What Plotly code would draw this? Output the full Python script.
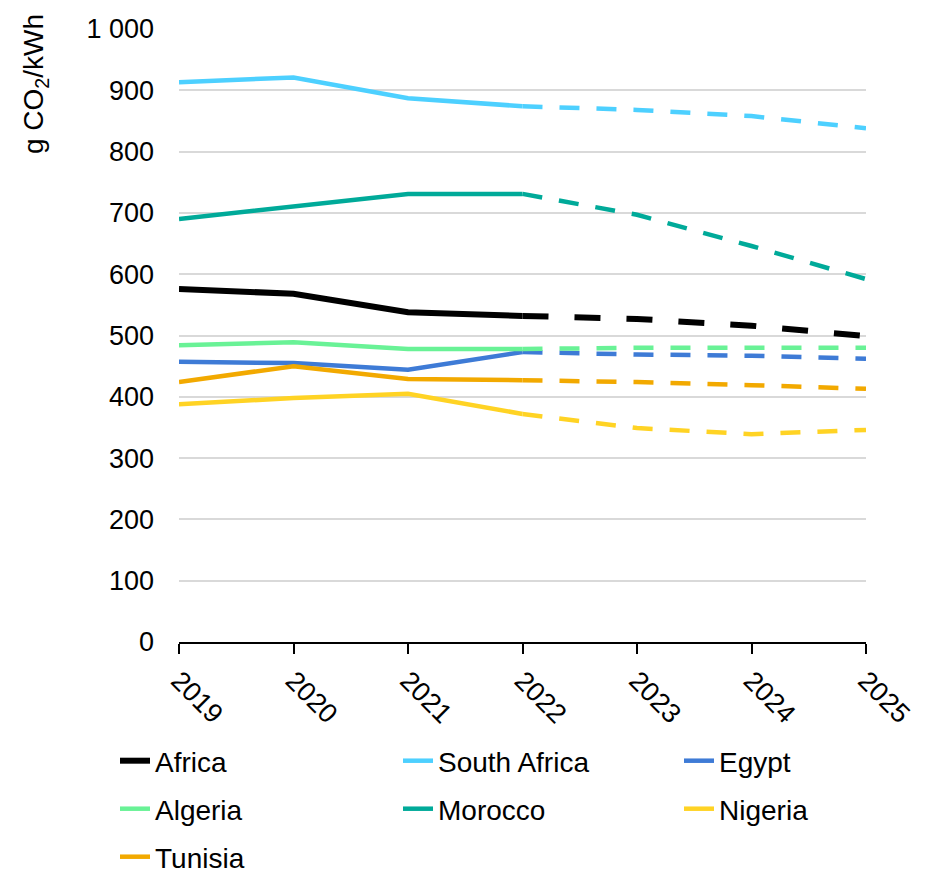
import plotly.graph_objects as go

years = [2019, 2020, 2021, 2022, 2023, 2024, 2025]
split_year = 2022  # history solid, projections dashed

series_names = ["Africa", "South Africa", "Egypt", "Algeria", "Morocco", "Nigeria", "Tunisia"]
africa = [576, 568, 538, 532, 527, 516, 499]
south_africa = [913, 921, 887, 874, 868, 858, 838]
egypt = [457, 455, 444, 473, 469, 467, 462]
algeria = [484, 489, 478, 478, 480, 480, 480]
morocco = [690, 711, 731, 731, 697, 646, 592]
nigeria = [388, 398, 405, 372, 349, 339, 346]
tunisia = [424, 450, 429, 427, 424, 419, 413]

colors = ["#000000", "#4DD0FF", "#3E7BD6", "#69F296", "#00AA99", "#FFD324", "#F2A900"]
values = [africa, south_africa, egypt, algeria, morocco, nigeria, tunisia]

# legend grid: 3 columns, 3 rows (one plotly legend per entry so spacing is exact)
leg_x = [107, 390, 671, 107, 390, 671, 107]
leg_y = [753, 753, 753, 801, 801, 801, 849]

fig = go.Figure()
cut = years.index(split_year)

for i, (name, vals, col) in enumerate(zip(series_names, values, colors)):
    leg = "legend" if i == 0 else f"legend{i + 1}"
    w = 6 if name == "Africa" else 4.5
    dash = "26px,26px" if name == "Africa" else "20px,17px"
    # historical part
    fig.add_trace(go.Scatter(
        x=years[:cut + 1], y=vals[:cut + 1],
        mode="lines", name=name,
        line=dict(color=col, width=w),
        legendgroup=name, legend=leg,
    ))
    # projected part
    fig.add_trace(go.Scatter(
        x=years[cut:], y=vals[cut:],
        mode="lines", name=name, showlegend=False,
        line=dict(color=col, width=w, dash=dash),
        legendgroup=name, legend=leg,
    ))

W, H = 935, 873
legends = {}
for i in range(len(series_names)):
    key = "legend" if i == 0 else f"legend{i + 1}"
    legends[key] = dict(
        orientation="h",
        xref="container", yref="container",
        x=leg_x[i] / W, y=1 - leg_y[i] / H,
        xanchor="left", yanchor="middle",
        font=dict(size=28),
        bgcolor="rgba(0,0,0,0)",
    )

fig.update_layout(
    width=W, height=H,
    plot_bgcolor="white", paper_bgcolor="white",
    margin=dict(l=171, r=77, t=21, b=239, autoexpand=False),
    font=dict(family="Liberation Sans, Arial, sans-serif", color="black", size=27),
    showlegend=True,
    **legends,
)

fig.update_xaxes(
    range=[2019, 2025],
    tickvals=years, ticktext=[str(y) for y in years],
    tickangle=45,
    showgrid=False, zeroline=False,
    showline=True, linecolor="black", linewidth=2,
    ticks="outside", ticklen=10, tickwidth=2, tickcolor="black",
    tickfont=dict(size=27),
)

fig.update_yaxes(
    range=[0, 1000],
    tickvals=[0, 100, 200, 300, 400, 500, 600, 700, 800, 900, 1000],
    ticktext=["0", "100", "200", "300", "400", "500", "600", "700", "800", "900", "1 000"],
    showgrid=True, gridcolor="#D9D9D9", gridwidth=2,
    zeroline=False, showline=False,
    ticks="", ticklabelstandoff=24,
    tickfont=dict(size=27),
)

# axis title sits at the top-left like the original
fig.add_annotation(
    text="g CO<sub>2</sub>/kWh",
    xref="paper", yref="paper",
    x=(35 - 179) / 687, y=(642 - 12) / 613,
    xanchor="center", yanchor="top",
    textangle=-90, showarrow=False,
    font=dict(size=28),
)

fig.write_html("out.html")
